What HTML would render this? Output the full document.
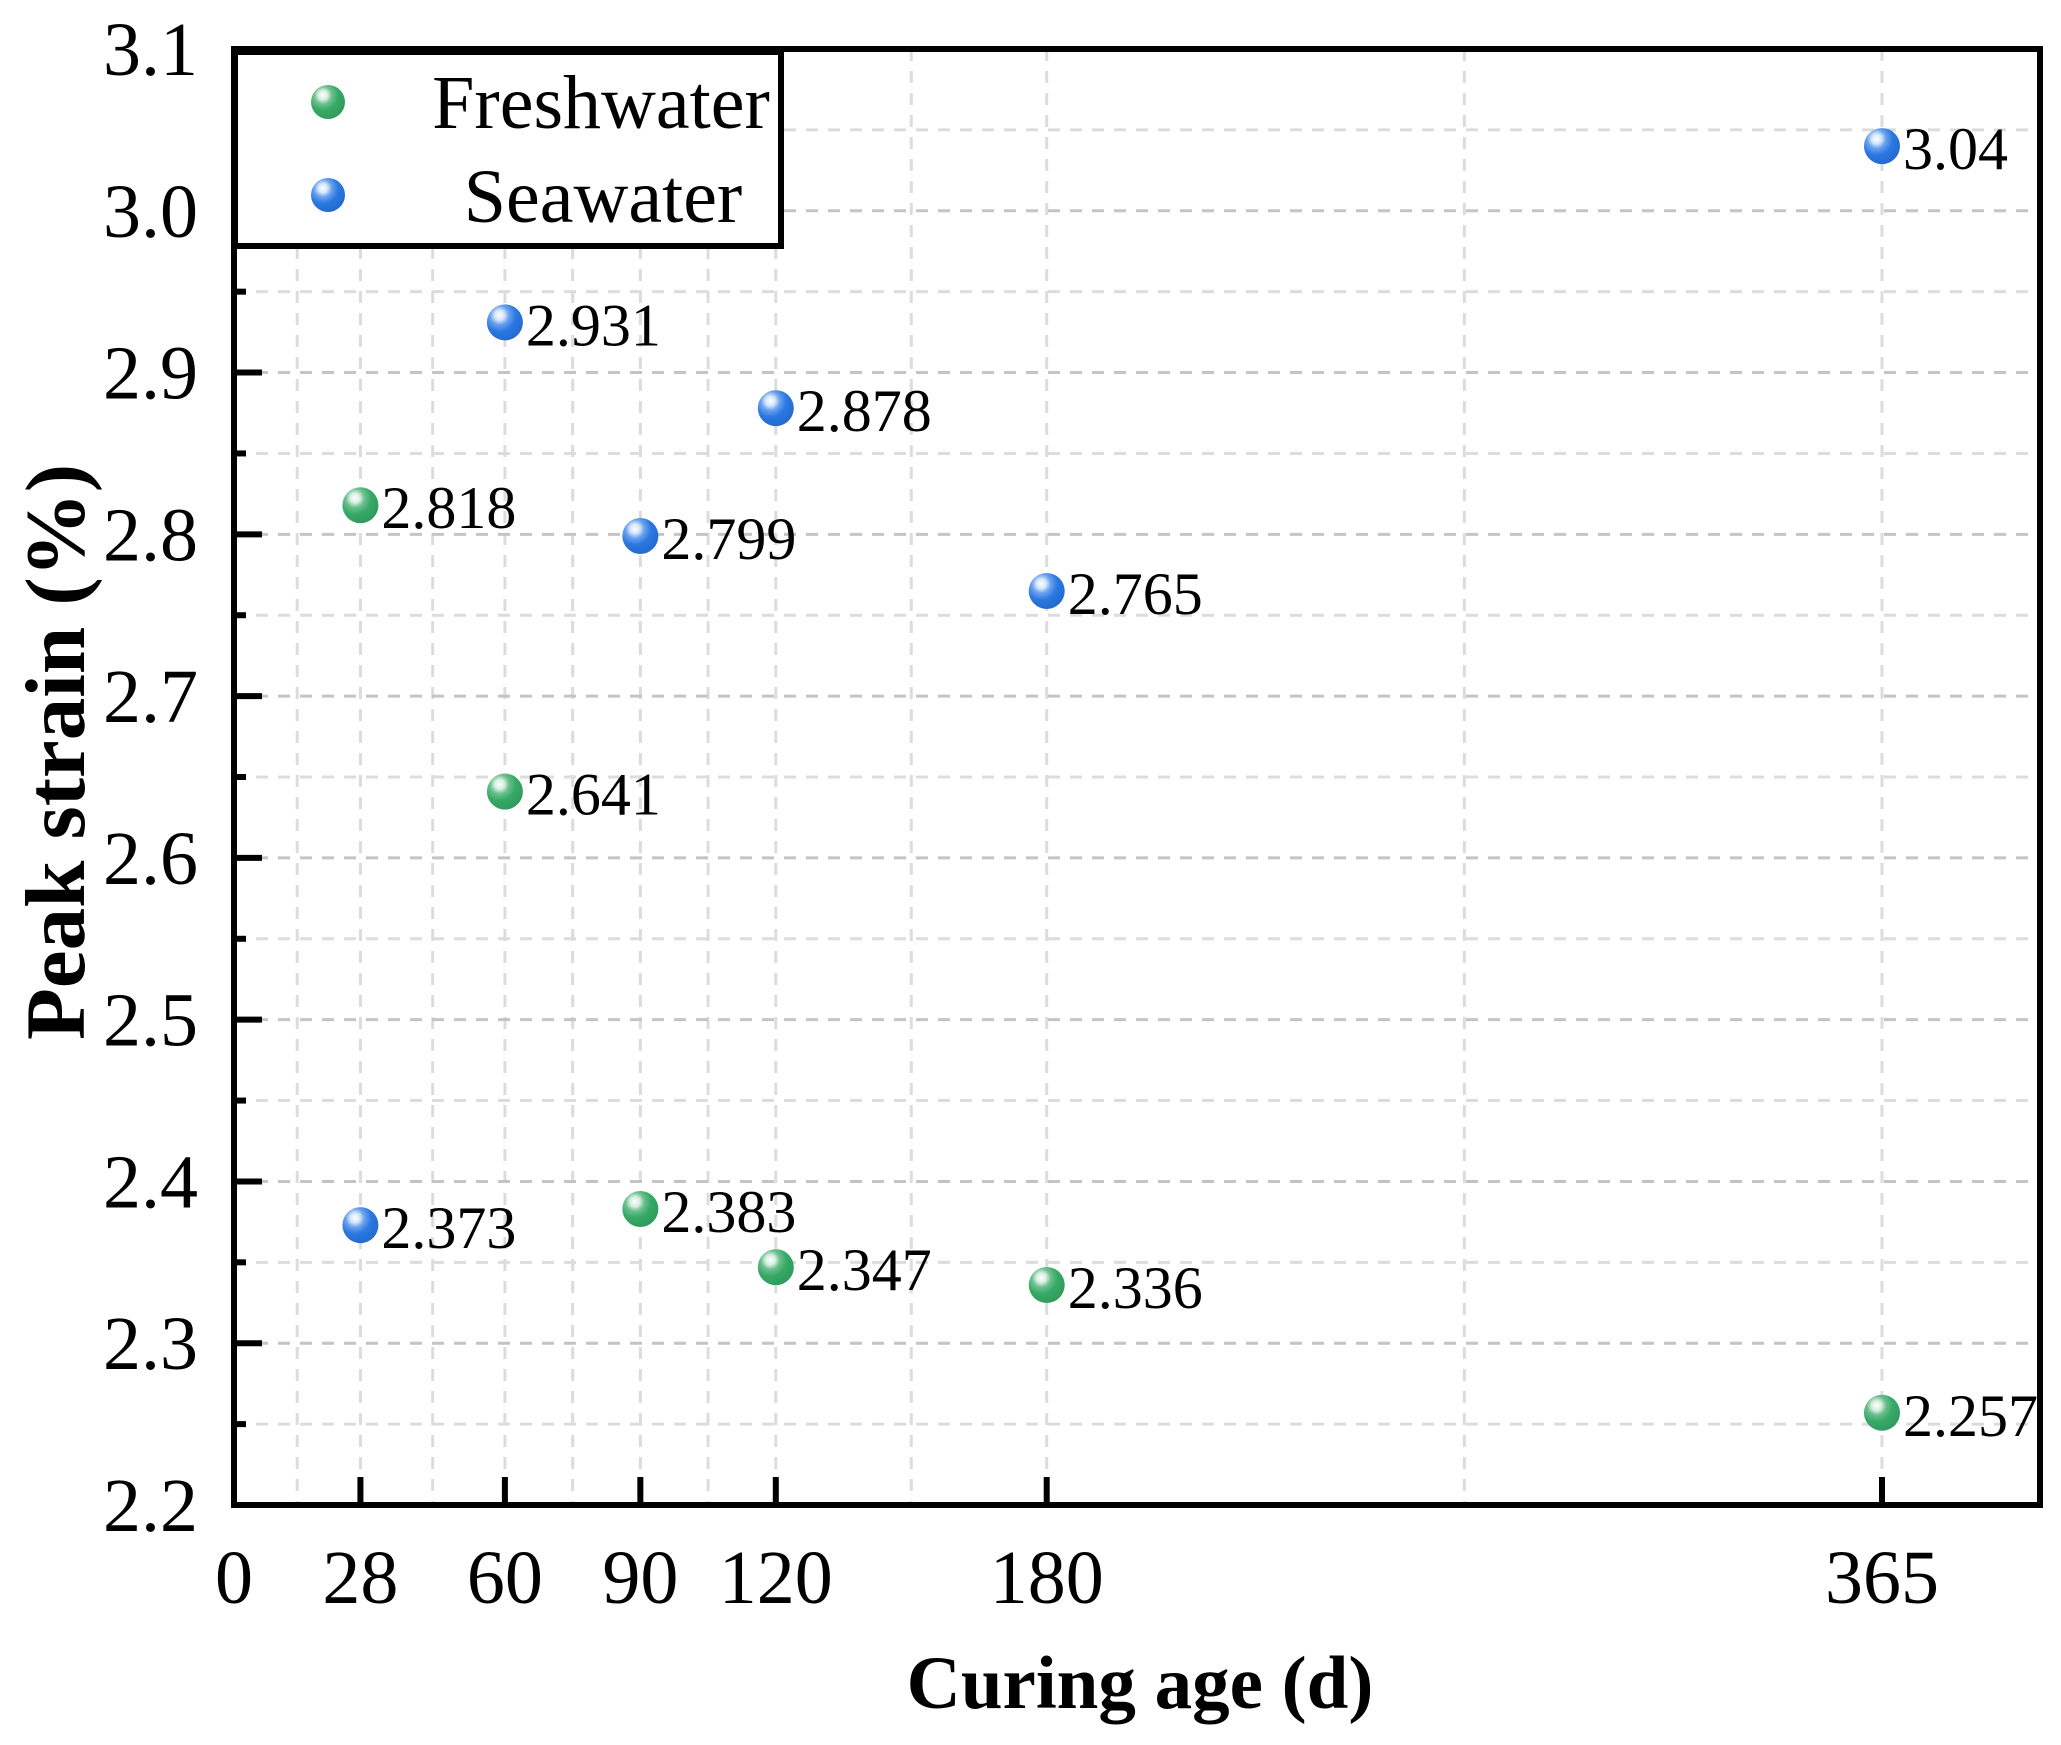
<!DOCTYPE html>
<html><head><meta charset="utf-8"><style>
html,body{margin:0;padding:0;background:#fff;}
svg{display:block;font-family:"Liberation Serif","Times New Roman",serif;}
</style></head><body>
<svg id="chart" width="2061" height="1745" viewBox="0 0 2061 1745" xmlns="http://www.w3.org/2000/svg">
<defs>
<radialGradient id="gGreen" cx="0.35" cy="0.3" r="0.75">
<stop offset="0" stop-color="#ffffff"/><stop offset="0.18" stop-color="#d9efe1"/><stop offset="0.35" stop-color="#6cc08e"/><stop offset="0.6" stop-color="#36a966"/><stop offset="1" stop-color="#2f9a5c"/>
</radialGradient>
<radialGradient id="gBlue" cx="0.35" cy="0.3" r="0.75">
<stop offset="0" stop-color="#ffffff"/><stop offset="0.18" stop-color="#d6e6fa"/><stop offset="0.35" stop-color="#6aa2ee"/><stop offset="0.6" stop-color="#2a78e0"/><stop offset="1" stop-color="#2369cc"/>
</radialGradient>
</defs>
<g id="grid"></g>
<g id="axes"></g>
<g id="marks"></g>
<g id="legend">
<rect x="235" y="52" width="546" height="194" fill="#fff" stroke="#000" stroke-width="6"/>
<circle cx="328" cy="102" r="17" fill="url(#gGreen)"/>
<text x="601" y="128" font-size="76" text-anchor="middle">Freshwater</text>
<circle cx="328" cy="195" r="17" fill="url(#gBlue)"/>
<text x="603" y="222" font-size="76" text-anchor="middle">Seawater</text>
</g>
<text x="1140" y="1708" font-size="75" font-weight="bold" text-anchor="middle">Curing age (d)</text>
<text transform="translate(84,752) rotate(-90)" font-size="85" font-weight="bold" text-anchor="middle">Peak strain (%)</text>
</svg>
<script>
const ages = [28, 60, 90, 120, 180, 365];
const freshwater = [2.818, 2.641, 2.383, 2.347, 2.336, 2.257];
const seawater = [2.373, 2.931, 2.799, 2.878, 2.765, 3.04];
const freshLabels = ["2.818", "2.641", "2.383", "2.347", "2.336", "2.257"];
const seaLabels = ["2.373", "2.931", "2.799", "2.878", "2.765", "3.04"];
const xTicks = [0, 28, 60, 90, 120, 180, 365];
const yTicks = ["2.2", "2.3", "2.4", "2.5", "2.6", "2.7", "2.8", "2.9", "3.0", "3.1"];

const L = 234, R = 2040, T = 49, B = 1505;
const xMin = 0, xMax = 400, yMin = 2.2, yMax = 3.1;
const xS = v => L + (v - xMin) / (xMax - xMin) * (R - L);
const yS = v => B - (v - yMin) / (yMax - yMin) * (B - T);
const NS = "http://www.w3.org/2000/svg";
function mk(tag, attrs, parent) {
  const e = document.createElementNS(NS, tag);
  for (const k in attrs) e.setAttribute(k, attrs[k]);
  parent.appendChild(e);
  return e;
}
const grid = document.getElementById('grid');
const axes = document.getElementById('axes');
const marks = document.getElementById('marks');

const vx = [];
for (let i = 1; i < xTicks.length; i++) { vx.push((xTicks[i - 1] + xTicks[i]) / 2); vx.push(xTicks[i]); }
vx.forEach(v => {
  const l = mk('line', {x1: xS(v), x2: xS(v), y1: T, y2: B, stroke: '#dcdcdc', 'stroke-width': 3, 'stroke-dasharray': '12 10'}, grid);
  
  
});
for (let i = 0; i < yTicks.length * 2 - 1; i++) {
  const v = yMin + i * 0.05;
  const major = i % 2 === 0;
  const l = mk('line', {x1: L, x2: R, y1: yS(v), y2: yS(v), stroke: major ? '#c4c4c4' : '#dcdcdc', 'stroke-width': 3, 'stroke-dasharray': '12 10'}, grid);
  
  
  const tk = mk('line', {x1: L, x2: L + (major ? 28 : 12), y1: yS(v), y2: yS(v), stroke: '#000', 'stroke-width': 6}, axes);
  
  
}
yTicks.forEach(t => {
  const tx = mk('text', {x: 198, y: yS(parseFloat(t)) + 26, 'font-size': 76, 'text-anchor': 'end'}, axes);
  tx.textContent = t;
  
  
});
xTicks.forEach(t => {
  if (t > 0) {
    const tk = mk('line', {x1: xS(t), x2: xS(t), y1: B, y2: B - 28, stroke: '#000', 'stroke-width': 6}, axes);
    
    
  }
  const tx = mk('text', {x: xS(t), y: 1603, 'font-size': 76, 'text-anchor': 'middle'}, axes);
  tx.textContent = String(t);
  
  
});
const fr = mk('rect', {x: L, y: T, width: R - L, height: B - T, fill: 'none', stroke: '#000', 'stroke-width': 6}, axes);



function series(vals, labels, grad, name) {
  ages.forEach((a, i) => {
    const cx = xS(a), cy = yS(vals[i]);
    const c = mk('circle', {cx: cx, cy: cy, r: 18, fill: grad}, marks);
    
    
    const t = mk('text', {x: cx + 21, y: cy + 23, 'font-size': 60}, marks);
    t.textContent = labels[i];
    
    
  });
}
series(freshwater, freshLabels, 'url(#gGreen)', 'freshwater');
series(seawater, seaLabels, 'url(#gBlue)', 'seawater');
</script>
</body></html>
